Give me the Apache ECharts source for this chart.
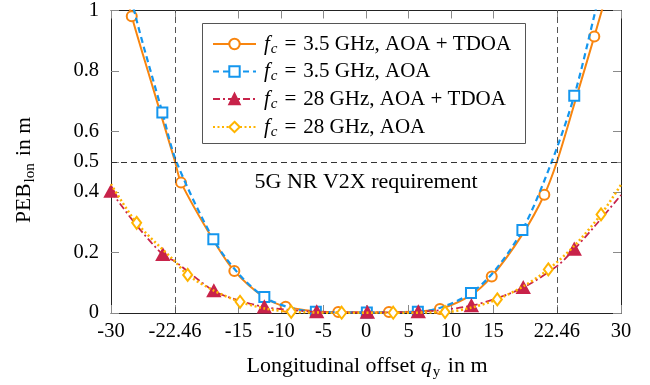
<!DOCTYPE html>
<html><head><meta charset="utf-8">
<script src="https://cdn.jsdelivr.net/npm/echarts@6/dist/echarts.min.js"></script>
<style>html,body{margin:0;padding:0;background:#fff}#c{width:650px;height:385px}</style>
</head><body><div id="c"></div>
<script>
// ---- data ----
const xTicks = [-30, -22.46, -15, -10, -5, 0, 5, 10, 15, 22.46, 30];
const yTicks = [0, 0.2, 0.4, 0.5, 0.6, 0.8, 1];
const reqX = [-22.46, 22.46];
const reqY = 0.5;
const reqText = '5G NR V2X requirement';

const seriesNames = ['fc = 3.5 GHz, AOA + TDOA', 'fc = 3.5 GHz, AOA', 'fc = 28 GHz, AOA + TDOA', 'fc = 28 GHz, AOA'];

const orangeX = [-30, -27.56, -25.5, -22.46, -21.76, -18, -15.49, -12, -9.45, -6, -3.26, 0, 2.7, 6, 8.7, 12.3, 14.79, 18.4, 20.98, 22.46, 24.5, 26.86, 30];
const orangeY = [1.25, 0.981, 0.785, 0.50, 0.431, 0.243, 0.139, 0.052, 0.021, 0.006, 0.003, 0.002, 0.003, 0.005, 0.013, 0.058, 0.121, 0.26, 0.391, 0.5, 0.69, 0.914, 1.22];
const orangeM = [0, 1, 0, 0, 1, 0, 1, 0, 1, 0, 1, 0, 1, 0, 1, 0, 1, 0, 1, 0, 0, 1, 0];

const blueX = [-30, -27.1, -23.96, -22.3, -17.96, -15, -11.96, -9, -5.9, 0.1, 6.1, 9, 12.35, 15, 18.4, 21.85, 24.5, 27.0, 30];
const blueY = [1.33, 0.98, 0.663, 0.5, 0.244, 0.13, 0.053, 0.018, 0.004, 0.002, 0.004, 0.02, 0.066, 0.135, 0.274, 0.5, 0.718, 1.0, 1.35];
const blueM = [0, 0, 1, 0, 1, 0, 1, 0, 1, 1, 1, 0, 1, 0, 1, 0, 1, 0, 0];

const redX = [-30, -27, -23.9, -22.46, -17.9, -15, -11.96, -9, -5.8, 0.16, 6.15, 9, 12.4, 15, 18.5, 22.46, 24.5, 27, 30];
const redY = [0.402, 0.29, 0.193, 0.17, 0.073, 0.042, 0.02, 0.01, 0.004, 0.002, 0.004, 0.01, 0.024, 0.045, 0.084, 0.155, 0.211, 0.29, 0.39];
const redM = [1, 0, 1, 0, 1, 0, 1, 0, 1, 1, 1, 0, 1, 0, 1, 0, 1, 0, 0];

const yellowX = [-30, -26.98, -22.46, -20.98, -17.9, -14.82, -11.9, -8.8, -2.86, 3.2, 9.3, 12.4, 15.45, 18.5, 21.45, 24.5, 27.65, 30];
const yellowY = [0.426, 0.298, 0.17, 0.126, 0.074, 0.037, 0.015, 0.004, 0.001, 0.001, 0.003, 0.018, 0.045, 0.088, 0.144, 0.222, 0.326, 0.424];
const yellowM = [0, 1, 0, 1, 0, 1, 0, 1, 1, 1, 1, 0, 1, 0, 1, 0, 1, 0];

// ---- chart ----
const FONT = '"Liberation Serif", "Times New Roman", serif';
function build(xs, ys, ms) {
  return xs.map((x, i) => ms[i] ? { value: [x, ys[i]] } : { value: [x, ys[i]], symbol: 'none' });
}
const chart = echarts.init(document.getElementById('c'), null, { renderer: 'canvas' });

const tickStyle = { show: true, inside: true, length: 8, lineStyle: { color: '#8a8a8a', width: 1 } };
const axisLine = { show: true, onZero: false, lineStyle: { color: '#222', width: 1 } };

function lineSeries(name, data, color, lineType, width, symbol, size, z) {
  return {
    name, type: 'line', data, smooth: 0.3, showAllSymbol: true,
    symbol, symbolSize: size, clip: true, z,
    lineStyle: { color, width, type: lineType },
    itemStyle: { color, borderColor: color, borderWidth: 2 },
    emphasis: { disabled: true }, animation: false
  };
}

const sub = { fontFamily: FONT, fontSize: 14, lineHeight: 10, padding: [10, 0, 0, 1], color: '#000' };
const legendRich = {
  i: { fontFamily: FONT, fontSize: 21, fontStyle: 'italic', lineHeight: 20, padding: [0, 0, 0, 3], color: '#000' },
  s: Object.assign({}, sub, { fontStyle: 'italic', fontSize: 15 }),
  e: { fontFamily: FONT, fontSize: 21, lineHeight: 20, padding: [0, 7, 0, 7], color: '#000' },
  t: { fontFamily: FONT, fontSize: 21, lineHeight: 20, color: '#000' }
};
const legendCenters = [41.5, 69, 96.5, 124.5];
const legends = seriesNames.map((n, k) => ({
  orient: 'vertical', left: 212, top: legendCenters[k] - 10, padding: 0, itemWidth: 43, itemHeight: 13,
  data: [n], selectedMode: false,
  formatter: nm => '{i|f}{s|c}{e|=}{t|' + nm.slice(5) + '}',
  textStyle: { fontFamily: FONT, fontSize: 21, color: '#000', rich: legendRich }
}));

chart.setOption({
  animation: false,
  grid: { left: 111, right: 29, top: 7, bottom: 72, containLabel: false },
  xAxis: [
    { type: 'value', min: -30, max: 30, position: 'bottom', axisLine,
      axisTick: Object.assign({ customValues: xTicks }, tickStyle),
      axisLabel: { customValues: xTicks, formatter: v => String(v), fontFamily: FONT, fontSize: 20.5, color: '#000', margin: 8 },
      splitLine: { show: false } },
    { type: 'value', min: -30, max: 30, position: 'top', axisLine,
      axisTick: Object.assign({ customValues: xTicks }, tickStyle),
      axisLabel: { show: false }, splitLine: { show: false } }
  ],
  yAxis: [
    { type: 'value', min: 0, max: 1, position: 'left', axisLine,
      axisTick: Object.assign({ customValues: yTicks }, tickStyle),
      axisLabel: { customValues: yTicks, formatter: v => String(v), fontFamily: FONT, fontSize: 20.5, color: '#000', margin: 12 },
      splitLine: { show: false } },
    { type: 'value', min: 0, max: 1, position: 'right', axisLine,
      axisTick: Object.assign({ customValues: yTicks }, tickStyle),
      axisLabel: { show: false }, splitLine: { show: false } }
  ],
  legend: legends,
  graphic: [
    { type: 'rect', z: 3, silent: true, shape: { x: 202.5, y: 23.5, width: 323, height: 120 },
      style: { fill: '#fff', stroke: '#555', lineWidth: 1 } },
    { type: 'text', z: 5, x: 366, y: 182, silent: true,
      style: { text: reqText, fontFamily: FONT, fontSize: 22, fill: '#000', align: 'center', verticalAlign: 'middle' } },
    { type: 'text', z: 5, x: 367, y: 366, silent: true,
      style: { text: '{m|Longitudinal offset }{q|q}{s|y}{m| in m}', align: 'center', verticalAlign: 'middle',
        rich: { m: { fontFamily: FONT, fontSize: 22, lineHeight: 22, fill: '#000' },
                q: { fontFamily: FONT, fontSize: 22, fontStyle: 'italic', lineHeight: 22 },
                s: Object.assign({}, sub, { fontSize: 15, padding: [12, 2, 0, 1] }) } } },
    { type: 'text', z: 5, x: 24, y: 170, rotation: Math.PI / 2, silent: true,
      style: { text: '{m|PEB}{s|lon}{m| in m}', align: 'center', verticalAlign: 'middle',
        rich: { m: { fontFamily: FONT, fontSize: 21.5, lineHeight: 22 },
                s: Object.assign({}, sub, { fontSize: 15, padding: [12, 2, 0, 1] }) } } }
  ],
  series: [
    { type: 'line', data: [], silent: true, z: 1,
      markLine: { silent: true, symbol: 'none', animation: false, label: { show: false },
        data: [
          { xAxis: reqX[0], lineStyle: { color: '#555', type: [6, 4], width: 1 } },
          { xAxis: reqX[1], lineStyle: { color: '#555', type: [6, 4], width: 1 } },
          { yAxis: reqY, lineStyle: { color: '#333', type: [6, 4], width: 1 } }
        ] } },
    lineSeries(seriesNames[0], build(orangeX, orangeY, orangeM), '#F8850F', 'solid', 2, 'emptyCircle', 10, 2),
    lineSeries(seriesNames[1], build(blueX, blueY, blueM), '#1496EE', [6, 4], 2.2, 'emptyRect', 10, 3),
    lineSeries(seriesNames[2], build(redX, redY, redM), '#C8234A', [7, 3, 2, 3], 1.8, 'triangle', [12, 11], 4),
    lineSeries(seriesNames[3], build(yellowX, yellowY, yellowM), '#FFB400', [2, 2.5], 2.5, 'emptyDiamond', [9, 12], 5)
  ]
});
</script></body></html>
